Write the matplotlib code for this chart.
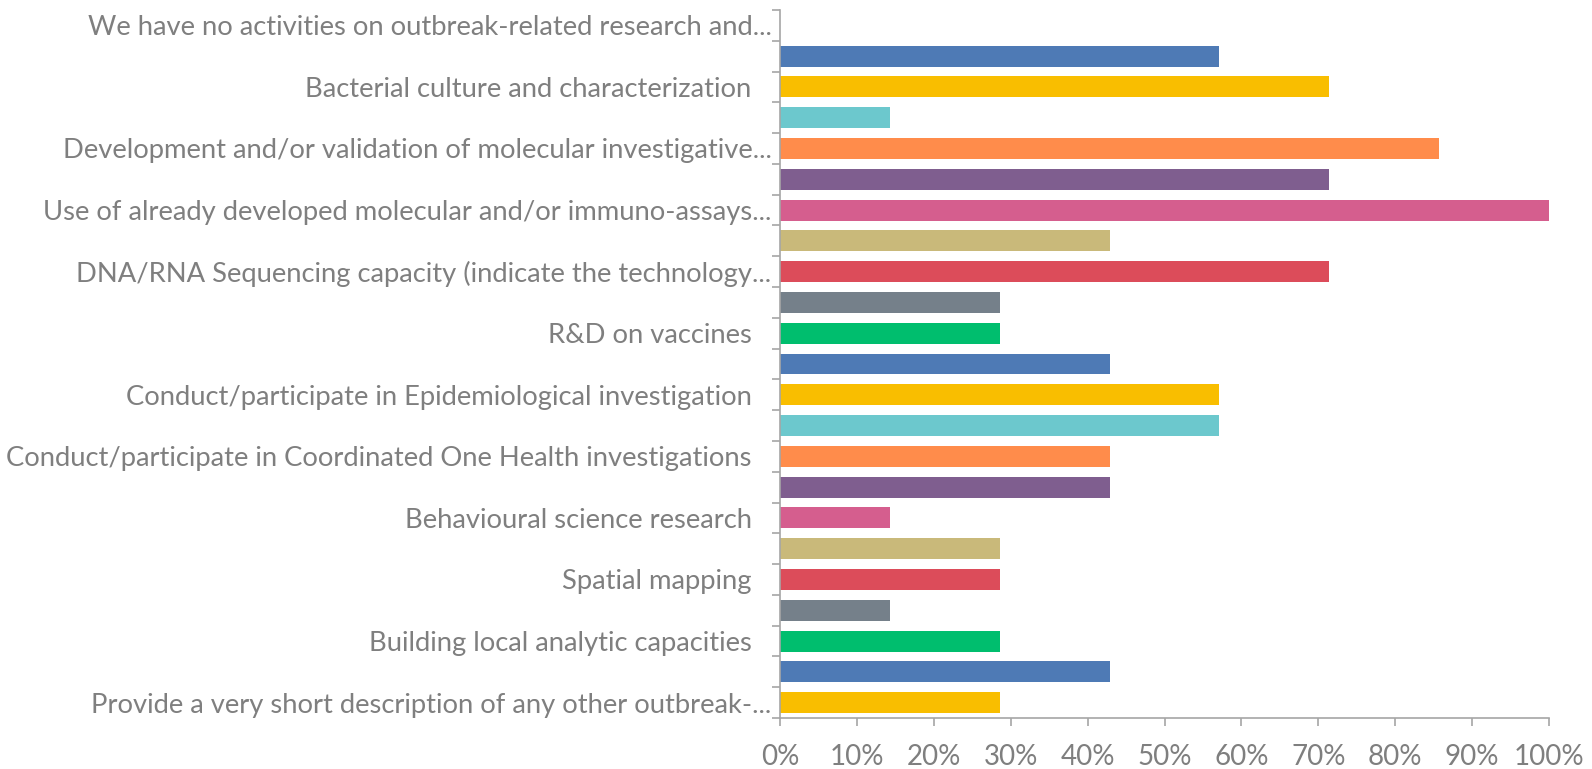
import numpy as np
import matplotlib.pyplot as plt
from matplotlib.ticker import FixedLocator

# Data (share of respondents)
labels = [
    'We have no activities on outbreak-related research and...',
    'Bacterial culture and characterization ',
    'Development and/or validation of molecular investigative...',
    'Use of already developed molecular and/or immuno-assays...',
    'DNA/RNA Sequencing capacity (indicate the technology...',
    'R&D on vaccines ',
    'Conduct/participate in Epidemiological investigation ',
    'Conduct/participate in Coordinated One Health investigations ',
    'Behavioural science research ',
    'Spatial mapping ',
    'Building local analytic capacities ',
    'Provide a very short description of any other outbreak-...',
]
values = [0.0, 0.571, 0.714, 0.143, 0.857, 0.714, 1.0, 0.429, 0.714, 0.286, 0.286, 0.429,
          0.571, 0.571, 0.429, 0.429, 0.143, 0.286, 0.286, 0.143, 0.286, 0.429, 0.286]
palette = ['#00BE6E', '#4E7AB5', '#F9BE00', '#6CC8CD', '#FF8C4B',
           '#7F5E8F', '#D55E8E', '#C9B97A', '#DC4C5A', '#75808A']
xticks = [0, 0.1, 0.2, 0.3, 0.4, 0.5, 0.6, 0.7, 0.8, 0.9, 1.0]

grey = '#7F7F7F'
plt.rcParams['font.family'] = ['Lato', 'DejaVu Sans']

fig = plt.figure(figsize=(15.92, 7.69), dpi=100)
ax = fig.add_axes([0.49, 0.0663, 0.483, 0.9207])

pos = np.arange(len(values))
colors = [palette[i % len(palette)] for i in range(len(values))]
ax.barh(pos, values, height=0.68, color=colors)

ax.set_ylim(len(values) - 0.5, -0.5)
ax.set_xlim(0, 1.0)

# labels on every other bar, drawn as text so the truncated ones sit closer to the axis
ax.set_yticks([])
ax.yaxis.set_minor_locator(FixedLocator(np.arange(len(values) + 1) - 0.5))
ax.tick_params(axis='y', which='minor', length=6, color='#A6A6A6', width=1.2)
for p, lab in zip(pos[::2], labels):
    off = -0.011 if lab.endswith('...') else -0.037
    ax.text(off, p + 0.08, lab.rstrip(), transform=ax.get_yaxis_transform(),
            ha='right', va='center', fontsize=19.7, color=grey)

ax.set_xticks(xticks)
ax.set_xticklabels(['%d%%' % round(t * 100) for t in xticks], fontsize=20, color=grey)
ax.tick_params(axis='x', length=6, color='#A6A6A6', width=1.2, pad=13)

for s in ['top', 'right']:
    ax.spines[s].set_visible(False)
for s in ['left', 'bottom']:
    ax.spines[s].set_color('#A6A6A6')
    ax.spines[s].set_linewidth(1.2)

fig.savefig('out.png', dpi=100)
